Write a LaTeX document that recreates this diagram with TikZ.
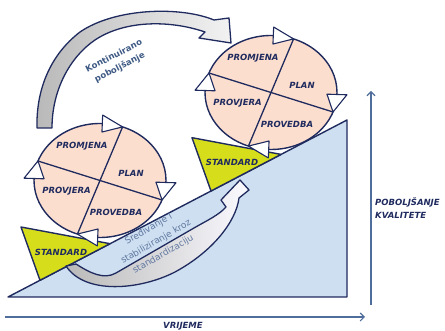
\documentclass[tikz,border=0pt]{standalone}
\usepackage{fontspec}
\setmainfont{DejaVu Sans}[ItalicFont={DejaVu Sans Oblique},BoldItalicFont={DejaVu Sans Bold Oblique}]
\usetikzlibrary{arrows.meta}

\definecolor{navy}{RGB}{31,42,94}
\definecolor{peach}{RGB}{251,222,206}
\definecolor{wedge}{RGB}{205,223,240}
\definecolor{lime}{RGB}{214,222,28}
\definecolor{axisblue}{RGB}{80,110,155}
\definecolor{slate}{RGB}{62,90,132}
\definecolor{haze}{RGB}{96,120,160}

\begin{document}
\begin{tikzpicture}[x=1pt, y=1pt,
    lbl/.style={font=\fontsize{8.5}{10}\selectfont\bfseries\itshape, text=navy, inner sep=0pt},
    outl/.style={draw=navy, line width=1.4pt, line join=round},
    axis/.style={draw=axisblue, line width=1.1pt, -{Straight Barb[length=4pt,width=8pt]}}]
    \useasboundingbox (0,0) rectangle (445,331);

    % Rising wedge
    \path[outl, fill=wedge] (8,34) -- (347,34) -- (347,211) -- cycle;

    % Standard blocks on the slope
    \foreach \sx/\sy/\nm in {0/0/low, 171/89.3/up} {
        \begin{scope}[shift={(\sx,\sy)}]
            \path[outl, fill=lime] (21,104) -- (110,87.3) -- (40,50.7) -- cycle;
            \node[lbl] (std\nm) at (61,79) {STANDARD};
        \end{scope}
    }

    % PDCA wheels
    \foreach \cx/\cy/\nm in {100/150.5/low, 271/238.5/up} {
        \begin{scope}[shift={(\cx,\cy)}]
            \path[outl, fill=peach] (0,0) ellipse (66 and 57);
            \draw[navy, line width=1.3pt] (160:66 and 57) -- (340:66 and 57);
            \draw[navy, line width=1.3pt] (70:66 and 57) -- (250:66 and 57);
            \foreach \t in {70,160,250,340} {
                \path[outl, line width=1.1pt, fill=white]
                    (\t:66 and 57) -- (\t+18:56 and 48.5) -- (\t+18:76 and 65.5) -- cycle;
            }
            \node[lbl] (promjena\nm) at (-18,34) {PROMJENA};
            \node[lbl] (plan\nm) at (31,7.5) {PLAN};
            \node[lbl] (provjera\nm) at (-33.5,-11) {PROVJERA};
            \node[lbl] (provedba\nm) at (16,-32) {PROVEDBA};
        \end{scope}
    }

    % Arrow over the top
    \path[outl, line width=1.3pt, left color=gray!55, right color=gray!10]
        (37,203) .. controls (36,241) and (50,276) .. (80,299)
        .. controls (115,323) and (180,325) .. (214,311)
        -- (229,313) -- (231,288) -- (199,293) -- (205,299)
        .. controls (170,311) and (125,311) .. (95,291)
        .. controls (70,274) and (52,241) .. (52,203) -- cycle;
    \node[font=\fontsize{8.5}{13}\selectfont\bfseries, text=slate, rotate=27, align=center]
        (kont) at (117,269) {Kontinuirano\\poboljšanje};

    % Arrow under the wheel
    \path[outl, line width=1.3pt, left color=gray!55, middle color=blue!5, right color=blue!2]
        (76,67) .. controls (90,58) and (104,51) .. (116,58)
        -- (194,103) .. controls (207,110.5) and (219,116) .. (226,124)
        -- (221,131) -- (240,151) -- (249,141) -- (239,133)
        .. controls (236,109) and (212,79) .. (175,59)
        .. controls (140,41) and (85,36) .. (66,65) -- cycle;
    \node[font=\fontsize{9}{14.5}\selectfont, text=haze, rotate=30, align=center]
        (sred) at (156,89) {Sređivanje i\\stabiliziranje kroz\\standardizaciju};

    % Axes
    \coordinate (t0) at (5,14);
    \coordinate (t1) at (365,14);
    \coordinate (q0) at (371,26);
    \coordinate (q1) at (371,240);
    \draw[axis] (t0) -- (t1);
    \draw[axis] (q0) -- (q1);
    \node[lbl, anchor=north] (vrijeme) at (183,9) {VRIJEME};
    \node[lbl, anchor=north west, align=left, font=\fontsize{8.5}{13}\selectfont\bfseries\itshape]
        (kval) at (375,134) {POBOLJŠANJE\\KVALITETE};
\end{tikzpicture}
\end{document}
